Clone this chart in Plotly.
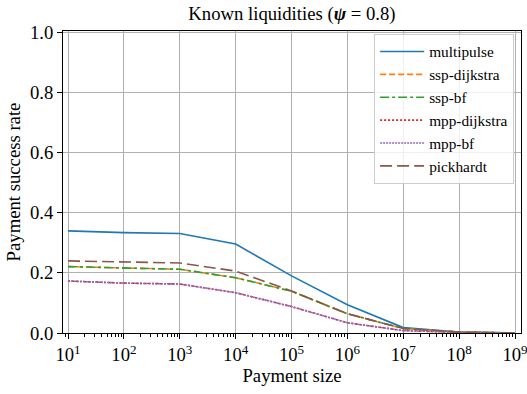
import plotly.graph_objects as go

payment_size = [1e1, 1e2, 1e3, 1e4, 1e5, 1e6, 1e7, 1e8, 1e9]
multipulse = [0.340, 0.334, 0.331, 0.296, 0.190, 0.094, 0.018, 0.003, 0.0]
ssp_dijkstra = [0.221, 0.216, 0.212, 0.184, 0.139, 0.064, 0.015, 0.003, 0.0]
ssp_bf = [0.221, 0.216, 0.212, 0.184, 0.139, 0.064, 0.015, 0.003, 0.0]
mpp_dijkstra = [0.173, 0.166, 0.163, 0.134, 0.088, 0.034, 0.008, 0.002, 0.0]
mpp_bf = [0.173, 0.166, 0.163, 0.134, 0.088, 0.034, 0.008, 0.002, 0.0]
pickhardt = [0.240, 0.236, 0.233, 0.206, 0.140, 0.064, 0.015, 0.003, 0.0]

x_tickvals = [1e1, 1e2, 1e3, 1e4, 1e5, 1e6, 1e7, 1e8, 1e9]
x_ticktext = [f"10<sup>{i}</sup>" for i in range(1, 10)]
y_tickvals = [0.0, 0.2, 0.4, 0.6, 0.8, 1.0]
y_ticktext = ["0.0", "0.2", "0.4", "0.6", "0.8", "1.0"]

series = [
    ("multipulse", multipulse, "#1f77b4", "solid"),
    ("ssp-dijkstra", ssp_dijkstra, "#ff7f0e", "6px,3px"),
    ("ssp-bf", ssp_bf, "#2ca02c", "dashdot"),
    ("mpp-dijkstra", mpp_dijkstra, "#d62728", "2px,2px"),
    ("mpp-bf", mpp_bf, "#9467bd", "2px,1px"),
    ("pickhardt", pickhardt, "#8c564b", "12px,5px"),
]

FONT = "Liberation Serif"
fig = go.Figure()
for name, vals, color, dash in series:
    fig.add_trace(go.Scatter(x=payment_size, y=vals, mode="lines", name=name,
                             line=dict(color=color, width=1.6, dash=dash)))

fig.update_layout(
    width=527, height=394,
    margin=dict(l=63, r=6, t=31, b=61),
    paper_bgcolor="white", plot_bgcolor="white",
    font=dict(family=FONT, color="black", size=18.7),
    title=dict(text="Known liquidities (<b><i>ψ</i></b> = 0.8)", x=0.554, xanchor="center",
               y=0.967, yanchor="middle", font=dict(size=18.7, family=FONT)),
    legend=dict(x=0.985, xanchor="right", y=0.99, yanchor="top",
                bgcolor="rgba(255,255,255,0.8)", bordercolor="#cccccc", borderwidth=1,
                font=dict(size=15.3, family=FONT), tracegroupgap=0, itemwidth=44),
    showlegend=True,
)
fig.update_xaxes(
    type="log", range=[0.91, 9.107],
    tickvals=x_tickvals, ticktext=x_ticktext,
    tickfont=dict(size=18.7, family=FONT),
    ticks="outside", ticklen=5, tickcolor="black",
    ticklabeloverflow="allow",
    showgrid=True, gridcolor="#b0b0b0", gridwidth=0.8,
    showline=True, linecolor="black", linewidth=1, mirror=True,
    minor=dict(ticks="outside", ticklen=3, tickcolor="black", dtick="D1", showgrid=False),
    zeroline=False, automargin=False,
    title=dict(text="Payment size", font=dict(size=18.7, family=FONT), standoff=4),
)
fig.update_yaxes(
    range=[0, 1.005],
    tickvals=y_tickvals, ticktext=y_ticktext,
    tickfont=dict(size=18.7, family=FONT),
    ticks="outside", ticklen=5, tickcolor="black",
    showgrid=True, gridcolor="#b0b0b0", gridwidth=0.8,
    showline=True, linecolor="black", linewidth=1, mirror=True,
    zeroline=False, automargin=False,
    title=dict(text="Payment success rate", font=dict(size=18.7, family=FONT), standoff=4),
)

fig.write_html("out.html")
